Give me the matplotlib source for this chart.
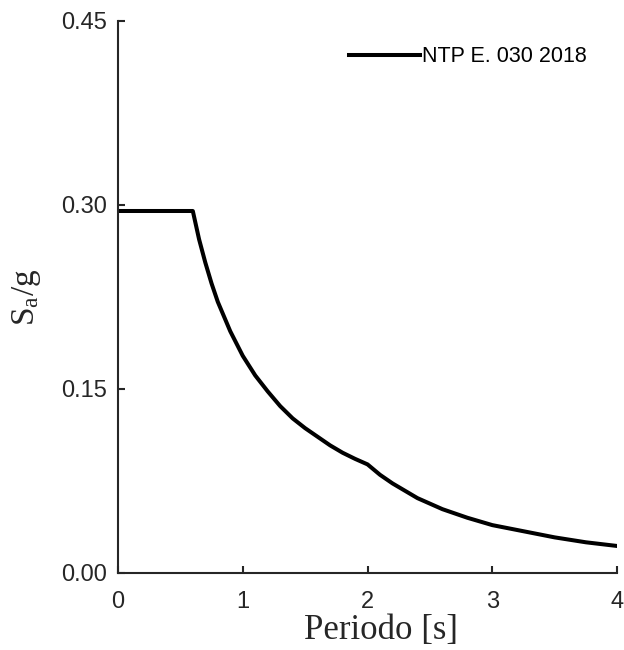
import matplotlib
matplotlib.use("Agg")
import matplotlib.pyplot as plt

plt.rcParams["font.family"] = ["Liberation Sans", "DejaVu Sans"]
plt.rcParams["mathtext.fontset"] = "custom"
plt.rcParams["mathtext.rm"] = "Liberation Serif"
plt.rcParams["mathtext.it"] = "Liberation Serif:italic"

# espectro de diseno (periodo en s, Sa/g)
periodo = [0.0, 0.6, 0.65, 0.7, 0.75, 0.8, 0.9, 1.0, 1.1, 1.2, 1.3, 1.4, 1.5,
           1.6, 1.7, 1.8, 1.9, 2.0, 2.1, 2.2, 2.4, 2.6, 2.8, 3.0, 3.25, 3.5,
           3.75, 4.0]
sa_g = [0.295, 0.295, 0.272, 0.253, 0.236, 0.221, 0.197, 0.177, 0.161, 0.148,
        0.136, 0.126, 0.118, 0.111, 0.104, 0.098, 0.093, 0.0885, 0.080, 0.073,
        0.061, 0.052, 0.045, 0.039, 0.034, 0.029, 0.025, 0.022]
etiqueta = "NTP E. 030 2018"

xticks = [0, 1, 2, 3, 4]
yticks = [0.0, 0.15, 0.30, 0.45]

eje = "#262626"

fig = plt.figure(figsize=(6.24, 6.5), dpi=100)
ax = fig.add_axes([0.189, 0.1185, 0.8, 0.8495])

ax.plot(periodo, sa_g, color="black", linewidth=2.9, label=etiqueta)

ax.set_xlim(0, 4)
ax.set_ylim(0, 0.45)
ax.set_xticks(xticks)
ax.set_yticks(yticks)
ax.set_yticklabels(["%.2f" % v for v in yticks])

for lado in ["top", "right"]:
    ax.spines[lado].set_visible(False)
for lado in ["left", "bottom"]:
    ax.spines[lado].set_color(eje)
    ax.spines[lado].set_linewidth(1.5)

ax.tick_params(direction="in", length=5, width=1.5, color=eje,
               labelsize=17, labelcolor=eje)
ax.tick_params(axis="x", pad=13)
ax.tick_params(axis="y", pad=8)

ax.set_xlabel("Periodo [s]", family="Liberation Serif", fontsize=25, color=eje)
ax.set_ylabel(r"$\mathrm{S_a/g}$", fontsize=24, color=eje)
ax.xaxis.set_label_coords(0.527, -0.074)
ax.yaxis.set_label_coords(-0.15, 0.5)

ax.legend(loc="center left", bbox_to_anchor=(0.463, 0.935), frameon=False,
          fontsize=15.5, handlelength=3.3, handletextpad=0.1,
          borderpad=0, borderaxespad=0)

plt.savefig("out.png")
